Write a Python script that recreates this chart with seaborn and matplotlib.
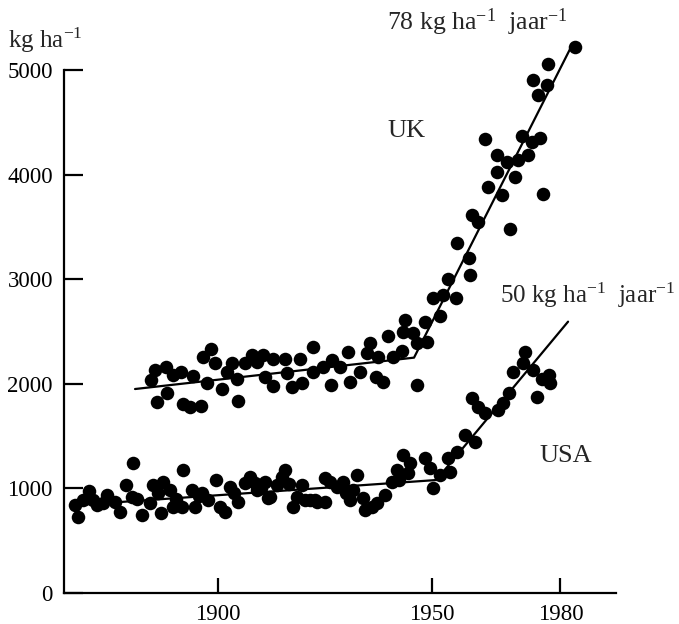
import matplotlib
matplotlib.use("Agg")
import matplotlib.pyplot as plt
import seaborn as sns
import pandas as pd

# ---- data ----
uk_years = [1884.3, 1885.3, 1885.7, 1887.9, 1888.1, 1889.5, 1891.4, 1891.8, 1893.5, 1896.0,
            1894.2, 1896.5, 1898.4, 1899.3, 1897.4, 1900.9, 1902.1, 1903.3, 1904.4, 1904.7,
            1906.3, 1907.9, 1909.1, 1910.5, 1912.9, 1911.0, 1912.9, 1915.7, 1919.2, 1922.2,
            1916.1, 1917.3, 1919.6, 1922.2, 1924.5, 1926.6, 1926.4, 1928.5, 1930.4, 1930.8,
            1933.2, 1934.8, 1935.5, 1936.9, 1938.6, 1937.4, 1939.7, 1940.9, 1943.0, 1943.7,
            1943.2, 1945.6, 1946.5, 1946.5, 1948.8, 1948.4, 1950.2, 1952.6, 1955.6, 1951.9,
            1953.7, 1958.9, 1958.6, 1955.8, 1959.3, 1960.7, 1968.2, 1963.1, 1966.4, 1975.9,
            1965.2, 1969.4, 1965.2, 1967.5, 1970.1, 1972.4, 1962.4, 1971.0, 1973.4, 1975.2,
            1974.8, 1976.9, 1973.6, 1977.1, 1983.4]
uk_values = [2036, 2132, 1826, 2161, 1912, 2084, 2113, 1807, 1778, 1788,
             2075, 2256, 2333, 2199, 2008, 1950, 2113, 2199, 2046, 1836,
             2199, 2275, 2208, 2275, 2237, 2065, 1979, 2237, 2237, 2352,
             2103, 1969, 2008, 2113, 2161, 2227, 1988, 2161, 2304, 2017,
             2113, 2294, 2390, 2065, 2017, 2256, 2457, 2256, 2313, 2610,
             2495, 2486, 2390, 1988, 2400, 2591, 2820, 2849, 2820, 2648,
             3002, 3040, 3203, 3346, 3614, 3547, 3480, 3880, 3805, 3810,
             4025, 3977, 4187, 4120, 4140, 4187, 4340, 4369, 4312, 4350,
             4761, 4856, 4904, 5057, 5220]

usa_years = [1866.6, 1867.3, 1868.5, 1869.9, 1871.7, 1874.1, 1875.9, 1877.1, 1878.5, 1880.1,
             1879.9, 1882.2, 1884.1, 1884.8, 1886.7, 1887.1, 1888.8, 1889.5, 1891.8, 1891.6,
             1893.9, 1894.6, 1896.3, 1897.7, 1899.5, 1900.5, 1901.6, 1902.8, 1904.7, 1906.3,
             1907.5, 1909.1, 1911.0, 1912.1, 1913.8, 1914.9, 1915.7, 1917.5, 1919.6, 1920.3,
             1922.7, 1925.0, 1926.2, 1927.8, 1908.6, 1911.7, 1918.5, 1921.5, 1923.1, 1925.0,
             1929.2, 1930.8, 1932.5, 1931.5, 1933.9, 1934.3, 1937.1, 1939.0, 1940.7, 1941.8,
             1943.2, 1944.9, 1944.4, 1948.4, 1949.5, 1950.2, 1951.9, 1954.2, 1953.7, 1955.8,
             1957.7, 1960.0, 1959.3, 1960.7, 1962.4, 1965.4, 1966.6, 1968.0, 1968.9, 1971.7,
             1971.3, 1973.6, 1975.7, 1977.3, 1977.6, 1974.5, 1935.9, 1942.3,
             1870.8, 1873.0, 1881.0, 1886.0, 1890.2, 1895.5, 1903.8, 1910.0, 1916.6, 1929.9]
usa_values = [841, 727, 889, 975, 841, 937, 870, 774, 1032, 1243,
              918, 746, 860, 1032, 765, 1061, 985, 822, 1176, 822,
              985, 822, 956, 889, 1080, 822, 774, 1013, 870, 1052,
              1109, 985, 1061, 918, 1032, 1109, 1176, 822, 1032, 889,
              889, 870, 1061, 1013, 1052, 908, 918, 889, 870, 1099,
              1061, 889, 1128, 985, 908, 793, 860, 937, 1061, 1176,
              1319, 1243, 1147, 1291, 1195, 1004, 1128, 1157, 1291, 1348,
              1510, 1444, 1864, 1778, 1721, 1749, 1816, 1912, 2113, 2304,
              2199, 2132, 2046, 2084, 2008, 1874, 820, 1080,
              890, 860, 900, 960, 900, 930, 960, 1000, 1040, 960]

uk_fit_years = [1880.6, 1945.8, 1983.0]
uk_fit_values = [1950, 2250, 5260]
usa_fit_years = [1867.0, 1951.0, 1981.8]
usa_fit_values = [841, 1080, 2594]

x_ticks = [1900, 1950, 1980]
y_ticks = [0, 1000, 2000, 3000, 4000, 5000]

unit_label = "kg ha$^{-1}$"
uk_rate_label = "78 kg ha$^{-1}$  jaar$^{-1}$"
usa_rate_label = "50 kg ha$^{-1}$  jaar$^{-1}$"

# ---- style ----
sns.set_style("ticks")
plt.rcParams["font.family"] = ["Liberation Serif", "DejaVu Serif"]
plt.rcParams["mathtext.fontset"] = "custom"
plt.rcParams["mathtext.rm"] = "Liberation Serif"
plt.rcParams["mathtext.it"] = "Liberation Serif:italic"
plt.rcParams["mathtext.bf"] = "Liberation Serif:bold"

fig = plt.figure(figsize=(6.79, 6.24), dpi=100)
ax = fig.add_axes([64 / 679, 31 / 624, 552 / 679, (593 - 38.6) / 624])

uk = pd.DataFrame({"year": uk_years, "value": uk_values})
usa = pd.DataFrame({"year": usa_years, "value": usa_values})
ukfit = pd.DataFrame({"year": uk_fit_years, "value": uk_fit_values})
usafit = pd.DataFrame({"year": usa_fit_years, "value": usa_fit_values})

sns.lineplot(data=ukfit, x="year", y="value", color="black", linewidth=1.6, ax=ax, sort=False)
sns.lineplot(data=usafit, x="year", y="value", color="black", linewidth=1.6, ax=ax, sort=False)
sns.scatterplot(data=uk, x="year", y="value", color="black", s=95, linewidth=0, ax=ax, clip_on=False)
sns.scatterplot(data=usa, x="year", y="value", color="black", s=95, linewidth=0, ax=ax, clip_on=False)

ax.set_xlim(1864, 1993)
ax.set_ylim(0, 5300)
ax.set_xticks(x_ticks)
ax.set_yticks(y_ticks)
ax.set_xlabel("")
ax.set_ylabel("")

for s in ["top", "right"]:
    ax.spines[s].set_visible(False)
ax.spines["left"].set_bounds(0, 5000)
for s in ["left", "bottom"]:
    ax.spines[s].set_linewidth(1.6)
    ax.spines[s].set_color("black")

ax.tick_params(axis="y", direction="in", length=14, width=1.6, pad=8, labelsize=16.5, colors="black")
ax.tick_params(axis="x", direction="in", length=11, width=1.6, pad=8, labelsize=16.5, colors="black")

# ---- annotations ----
fig.text(8 / 679, 1 - 48 / 624, unit_label, fontsize=18, ha="left", va="baseline")
ax.text(1939.5, 5382, uk_rate_label, fontsize=18.5, ha="left", va="baseline")
ax.text(1939.5, 4359, "UK", fontsize=19, ha="left", va="baseline")
ax.text(1965.9, 2772, usa_rate_label, fontsize=18, ha="left", va="baseline")
ax.text(1975.2, 1252, "USA", fontsize=19, ha="left", va="baseline")

fig.savefig("out.png", dpi=100)
